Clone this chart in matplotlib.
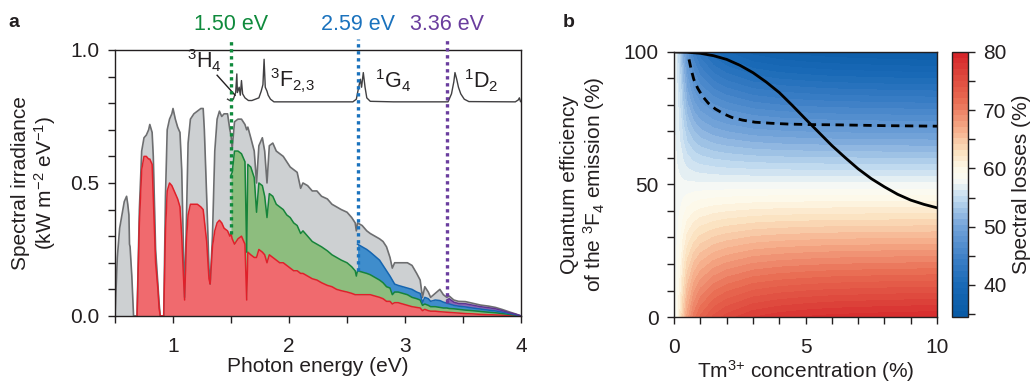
import numpy as np
import matplotlib
matplotlib.use('Agg')
import matplotlib.pyplot as plt
from matplotlib.colors import LinearSegmentedColormap
from matplotlib.ticker import MultipleLocator, FixedLocator

plt.rcParams['font.family'] = ['Liberation Sans', 'DejaVu Sans']
plt.rcParams['mathtext.fontset'] = 'custom'
plt.rcParams['mathtext.rm'] = 'Liberation Sans'
plt.rcParams['mathtext.it'] = 'Liberation Sans:italic'
plt.rcParams['mathtext.bf'] = 'Liberation Sans:bold'
plt.rcParams['font.size'] = 15
ink = '#231f20'
nan = np.nan

# ---- panel a: solar spectrum split into bands (kW m-2 eV-1) ----
energy = [
    0.50, 0.52, 0.54, 0.56, 0.58, 0.60, 0.61, 0.62, 0.625, 0.63, 0.645, 0.66,
    0.69, 0.71, 0.73, 0.75, 0.77, 0.79, 0.80, 0.82, 0.83, 0.85, 0.87, 0.88, 0.89,
    0.92, 0.935, 0.95, 0.97, 0.99, 1.00, 1.02, 1.04, 1.06, 1.075, 1.09, 1.10,
    1.115, 1.13, 1.15, 1.18, 1.21, 1.24, 1.26, 1.27, 1.29, 1.31, 1.32,
    1.34, 1.36, 1.38, 1.40, 1.42, 1.44, 1.47, 1.49,
    1.50, 1.51, 1.53, 1.56, 1.59, 1.62, 1.635, 1.645, 1.67, 1.70, 1.72, 1.74, 1.77, 1.79,
    1.81, 1.83, 1.86, 1.89, 1.92, 1.95, 1.98,
    2.01, 2.04, 2.07, 2.10, 2.12, 2.16, 2.20, 2.24, 2.28, 2.33, 2.37, 2.41, 2.45, 2.50,
    2.54, 2.57, 2.58,
    2.59, 2.63, 2.67, 2.70, 2.74, 2.78, 2.81, 2.84, 2.87, 2.89, 2.91, 2.94, 2.98, 3.02,
    3.06, 3.10, 3.13, 3.15, 3.17, 3.20, 3.22, 3.26, 3.30, 3.33,
    3.36, 3.38, 3.42, 3.46, 3.52, 3.58, 3.65, 3.72, 3.78, 3.84, 3.90, 3.95, 4.00,
]
total = [
    0.00, 0.22, 0.33, 0.38, 0.43, 0.45, 0.42, 0.38, 0.27, 0.26, 0.15, 0.00,
    0.00, 0.40, 0.62, 0.67, 0.68, 0.70, 0.72, 0.69, 0.60, 0.25, 0.12, 0.05, 0.00,
    0.00, 0.45, 0.70, 0.74, 0.76, 0.78, 0.74, 0.71, 0.69, 0.55, 0.25, 0.07,
    0.35, 0.65, 0.74, 0.76, 0.77, 0.78, 0.78, 0.70, 0.45, 0.18, 0.12,
    0.30, 0.62, 0.74, 0.77, 0.75, 0.76, 0.76, 0.70,
    0.68, 0.63, 0.73, 0.74, 0.74, 0.72, 0.70, 0.71, 0.67, 0.62, 0.50, 0.64, 0.67, 0.62,
    0.50, 0.64, 0.65, 0.62, 0.61, 0.60, 0.58,
    0.56, 0.55, 0.54, 0.48, 0.50, 0.49, 0.47, 0.47, 0.45, 0.44, 0.42, 0.41, 0.40, 0.39,
    0.37, 0.35, 0.32,
    0.35, 0.34, 0.32, 0.31, 0.30, 0.29, 0.28, 0.26, 0.22, 0.18, 0.20, 0.20, 0.20, 0.20,
    0.19, 0.16, 0.135, 0.07, 0.11, 0.09, 0.07, 0.085, 0.10, 0.08,
    0.07, 0.075, 0.06, 0.055, 0.054, 0.048, 0.041, 0.037, 0.032, 0.024, 0.015, 0.008, 0.0,
]
red = [nan] * 12 + [
    0.00, 0.35, 0.55, 0.60, 0.60, 0.59, 0.59, 0.57, 0.45, 0.20, 0.10, 0.03, 0.00,
    0.00, 0.32, 0.47, 0.50, 0.49, 0.48, 0.46, 0.44, 0.41, 0.30, 0.15, 0.06,
    0.28, 0.38, 0.42, 0.42, 0.42, 0.41, 0.40, 0.36, 0.28, 0.14, 0.12,
    0.26, 0.32, 0.35, 0.36, 0.35, 0.33, 0.32, 0.30,
    0.31, 0.29, 0.27, 0.29, 0.30, 0.27, 0.06, 0.24, 0.23, 0.22, 0.22, 0.25, 0.24, 0.23,
    0.20, 0.23, 0.22, 0.21, 0.20, 0.20, 0.19,
    0.18, 0.17, 0.17, 0.16, 0.16, 0.15, 0.14, 0.135, 0.125, 0.115, 0.11, 0.10, 0.095, 0.09,
    0.085, 0.08, 0.08,
    0.08, 0.08, 0.08, 0.08, 0.075, 0.07, 0.065, 0.055, 0.055, 0.045, 0.05, 0.05, 0.045, 0.04,
    0.035, 0.032, 0.03, 0.02, 0.025, 0.02, 0.018, 0.018, 0.016, 0.015,
    0.014, 0.013, 0.012, 0.011, 0.009, 0.008, 0.006, 0.005, 0.004, 0.003, 0.002, 0.001, 0.0,
]
green = [nan] * 56 + [
    0.53, 0.54, 0.62, 0.62, 0.61, 0.58, 0.24, 0.57, 0.56, 0.52, 0.39, 0.50, 0.49, 0.45,
    0.37, 0.46, 0.45, 0.42, 0.41, 0.40, 0.38,
    0.37, 0.35, 0.34, 0.31, 0.32, 0.30, 0.28, 0.27, 0.26, 0.245, 0.23, 0.22, 0.21, 0.20,
    0.185, 0.17, 0.15,
    0.17, 0.165, 0.16, 0.155, 0.145, 0.135, 0.125, 0.11, 0.105, 0.08, 0.09, 0.09, 0.085, 0.08,
    0.07, 0.065, 0.06, 0.04, 0.045, 0.04, 0.035, 0.035, 0.032, 0.03,
    0.03, 0.028, 0.027, 0.025, 0.022, 0.02, 0.017, 0.014, 0.012, 0.009, 0.006, 0.003, 0.0,
]
blue = [nan] * 94 + [
    0.27, 0.26, 0.25, 0.24, 0.225, 0.21, 0.19, 0.17, 0.15, 0.135, 0.12, 0.115, 0.11, 0.105,
    0.10, 0.09, 0.085, 0.05, 0.07, 0.065, 0.055, 0.06, 0.058, 0.052,
    0.048, 0.045, 0.04, 0.037, 0.034, 0.03, 0.026, 0.022, 0.019, 0.014, 0.009, 0.005, 0.0,
]
purple = [nan] * 118 + [
    0.06, 0.065, 0.052, 0.047, 0.046, 0.041, 0.035, 0.031, 0.027, 0.02, 0.012, 0.007, 0.0,
]

# Tm3+ absorption trace drawn above the spectrum
abs_energy = [1.47, 1.49, 1.52, 1.54, 1.55, 1.555, 1.57, 1.58, 1.59, 1.60,
              1.62, 1.65, 1.68, 1.71, 1.74, 1.76, 1.775, 1.785, 1.795, 1.81,
              1.82, 1.84, 1.87, 2.00, 2.55, 2.58, 2.60, 2.615, 2.625, 2.64,
              2.655, 2.67, 2.70, 2.90, 3.37, 3.40, 3.42, 3.43, 3.445, 3.46,
              3.48, 3.51, 3.55, 3.95, 3.975, 3.985, 3.995, 4.0]
abs_level = [0.815, 0.81, 0.815, 0.84, 0.91, 0.84, 0.86, 0.83, 0.885, 0.835,
             0.82, 0.81, 0.81, 0.815, 0.82, 0.845, 0.87, 0.965, 0.86, 0.845,
             0.83, 0.815, 0.805, 0.805, 0.805, 0.815, 0.86, 0.89, 0.86, 0.915,
             0.86, 0.82, 0.807, 0.805, 0.805, 0.835, 0.88, 0.915, 0.89, 0.86,
             0.835, 0.815, 0.806, 0.805, 0.812, 0.82, 0.806, 0.805]
state_labels = [r'$^{3}$H$_{4}$', r'$^{3}$F$_{2{,}3}$', r'$^{1}$G$_{4}$', r'$^{1}$D$_{2}$']
state_x = [1.12, 1.84, 2.74, 3.51]
state_y = [0.932, 0.861, 0.857, 0.857]

thresholds = [1.50, 2.59, 3.36]
thr_colors = ['#0f8a3c', '#1a72bd', '#6a3d9e']

# ---- panel b: spectral losses map ----
conc = [0, 0.1, 0.2, 0.35, 0.5, 0.75, 1, 1.5, 2, 3, 4, 5, 6, 8, 10]
qe_rows = [0, 50, 100]
loss_qe0 = [58, 59, 61, 64.5, 67.5, 70.5, 72.3, 74.3, 75.5, 77, 77.7, 78.1, 78.4, 78.7, 78.9]
loss_qe50 = [57.5] * 15
loss_qe100 = [57, 56, 54, 50.5, 47.5, 44.5, 42.7, 40.7, 39.5, 38, 37.3, 36.9, 36.6, 36.3, 36.1]

solid_conc = [0, 0.5, 1, 1.5, 2, 2.5, 3, 3.5, 4, 4.5, 5, 5.5, 6, 6.5, 7, 7.5, 8, 8.5, 9, 9.5, 10]
solid_qe = [100, 99.9, 99.5, 98.6, 97.2, 95.0, 92.2, 88.7, 84.7, 79.8, 74.7, 69.7, 64.7,
            60.2, 55.9, 52.2, 49.1, 46.3, 44.1, 42.5, 41.2]
dashed_conc = [0.57, 0.65, 0.75, 0.9, 1.07, 1.3, 1.57, 1.9, 2.2, 2.6, 3.08, 3.7, 4.34,
               5.2, 6.23, 8, 10]
dashed_qe = [97.2, 93.5, 89.7, 86.3, 83.5, 80.7, 78.5, 76.6, 75.3, 74.3, 73.5, 73.1, 72.8,
             72.6, 72.5, 72.2, 72.0]

fig = plt.figure(figsize=(10.36, 3.83), dpi=100)
ax = fig.add_axes([0.111, 0.175, 0.392, 0.6945])
axb = fig.add_axes([0.6506, 0.1723, 0.2539, 0.692])
cax = fig.add_axes([0.9189, 0.1723, 0.0154, 0.692])

E = np.array(energy)
tot = np.array(total)
r = np.array(red)
g = np.array(green)
b = np.array(blue)
p = np.array(purple)

ax.fill_between(E, 0, tot, color='#cdd0d2', lw=0)
ax.fill_between(E, 0, r, color='#f06a6e', lw=0)
ax.fill_between(E, r, g, color='#8dbd7e', lw=0)
ax.fill_between(E, g, b, color='#3f8dcc', lw=0)
ax.fill_between(E, b, p, color='#8c68b8', lw=0)
ax.plot(E, tot, color='#6d6e70', lw=1.2)
ax.plot(E, r, color='#e0202a', lw=1.1)
ax.plot(E, g, color='#16843a', lw=1.1)
ax.plot(E, b, color='#1565b0', lw=1.1)
ax.plot(E, p, color='#5e3592', lw=1.1)

ax.plot(abs_energy, abs_level, color='#414042', lw=1)

below = [r, g, b]
for t, c, band in zip(thresholds, thr_colors, below):
    i = int(np.argmin(np.abs(E - t)))
    ax.plot([t, t], [band[i], 1.04], color=c, lw=2.4, ls=(0, (1, 1.1)),
            clip_on=False, zorder=5)
    ax.text(t, 1.095, f'{t:.2f} eV', color=c, ha='center', va='center', fontsize=15.5)

for s, x, y in zip(state_labels, state_x, state_y):
    ax.text(x, y, s, ha='left', va='baseline', fontsize=15.5, color=ink)
ax.plot([1.38, 1.535], [0.905, 0.83], color=ink, lw=1)

ax.set_xlim(0.5, 4)
ax.set_ylim(0, 1.0)
ax.xaxis.set_major_locator(FixedLocator([1, 2, 3, 4]))
ax.xaxis.set_minor_locator(MultipleLocator(0.5))
ax.yaxis.set_major_locator(FixedLocator([0, 0.5, 1.0]))
ax.yaxis.set_minor_locator(MultipleLocator(0.1))
ax.yaxis.set_major_formatter(lambda v, pos: f'{v:.1f}')
ax.set_xlabel('Photon energy (eV)', color=ink, labelpad=1)
ax.set_ylabel('Spectral irradiance\n(kW m$^{-2}$ eV$^{-1}$)', color=ink, linespacing=1.1)
ax.yaxis.set_label_coords(-0.14, 0.5)

# panel b map
Z = np.array([loss_qe0, loss_qe50, loss_qe100])
cmap = LinearSegmentedColormap.from_list('losses', [
    (0.0, '#085aa5'), (0.121, '#1969b6'), (0.231, '#4182c8'), (0.341, '#73a3d9'),
    (0.451, '#c3dcf0'), (0.516, '#fafbf5'), (0.56, '#fdf9e8'), (0.626, '#fbe1be'),
    (0.714, '#f5aa87'), (0.824, '#e86950'), (1.0, '#d42328')])
levels = np.linspace(34.5, 80, 47)
cf = axb.contourf(conc, qe_rows, Z, levels=levels, cmap=cmap, extend='neither')
axb.plot(solid_conc, solid_qe, color='black', lw=2)
axb.plot(dashed_conc, dashed_qe, color='black', lw=2, ls=(0, (3, 2)))
axb.set_xlim(0, 10)
axb.set_ylim(0, 100)
axb.xaxis.set_major_locator(FixedLocator([0, 5, 10]))
axb.xaxis.set_minor_locator(MultipleLocator(1))
axb.yaxis.set_major_locator(FixedLocator([0, 50, 100]))
axb.yaxis.set_minor_locator(MultipleLocator(10))
axb.set_xlabel('Tm$^{3{+}}$ concentration (%)', color=ink, labelpad=1)
axb.set_ylabel('Quantum efficiency\nof the $^{3}$F$_{4}$ emission (%)', color=ink,
               linespacing=1.1)
axb.yaxis.set_label_coords(-0.255, 0.5)

cb = fig.colorbar(cf, cax=cax)
cb.set_ticks([40, 50, 60, 70, 80])
cax.yaxis.set_minor_locator(MultipleLocator(5))
cb.outline.set_linewidth(1)
cb.outline.set_edgecolor(ink)
cb.set_label('Spectral losses (%)', color=ink, labelpad=4)

for a in (ax, axb, cax):
    a.tick_params(which='both', direction='out', length=5, width=1, colors=ink,
                  labelsize=15, pad=6)
    for sp in a.spines.values():
        sp.set_linewidth(1)
        sp.set_color(ink)
for a in (ax, axb):
    a.tick_params(axis='x', which='both', pad=10)

fig.text(0.008, 0.93, 'a', fontsize=14, fontweight='bold', color=ink)
fig.text(0.543, 0.93, 'b', fontsize=14, fontweight='bold', color=ink)

fig.savefig('out.png', dpi=100)
